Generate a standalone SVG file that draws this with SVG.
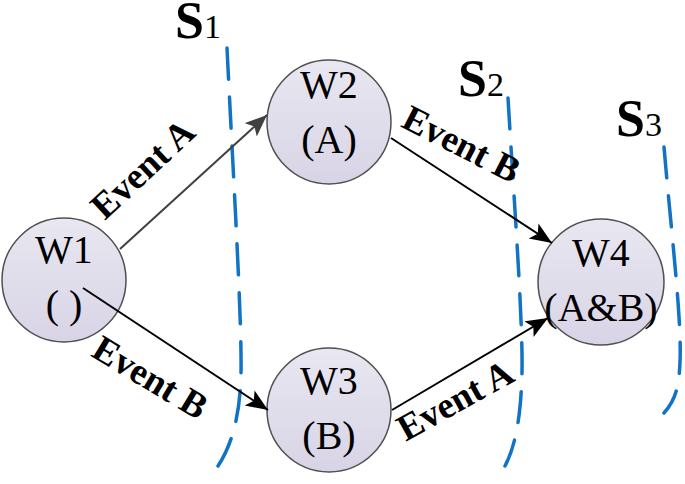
<svg xmlns="http://www.w3.org/2000/svg" width="685" height="484" viewBox="0 0 685 484">
<defs>
<linearGradient id="nodeFill" x1="0" y1="0" x2="0" y2="1">
<stop offset="0" stop-color="#e9e7f1"/>
<stop offset="1" stop-color="#d8d4e6"/>
</linearGradient>
<marker id="arrBlack" markerWidth="24" markerHeight="20" refX="22" refY="9" orient="auto" markerUnits="userSpaceOnUse">
<path d="M0,0 L22,9 L0,18 L5,9 Z" fill="#000"/>
</marker>
<marker id="arrGray" markerWidth="24" markerHeight="20" refX="22" refY="9" orient="auto" markerUnits="userSpaceOnUse">
<path d="M0,0 L22,9 L0,18 L5,9 Z" fill="#404040"/>
</marker>
</defs>
<style>
.node circle { fill: url(#nodeFill); stroke: #505050; stroke-width: 1.5; }
.nt { font-family: "Liberation Serif", "Times New Roman", serif; font-size: 40px; fill: #000; text-anchor: middle; }
.sep { fill: none; stroke: #1273c4; stroke-width: 3.5; stroke-dasharray: 31 18; stroke-linecap: round; }
.sl { font-family: "Liberation Serif", "Times New Roman", serif; font-weight: bold; font-size: 52px; fill: #000; }
.ss { font-family: "Liberation Serif", "Times New Roman", serif; font-size: 34px; fill: #000; }
.el { font-family: "Liberation Serif", "Times New Roman", serif; font-weight: bold; font-size: 37px; fill: #000; text-anchor: middle; }
.edge { fill: none; stroke-width: 2; }
</style>

<g id="separators">
<path class="sep" d="M227,48 C234,190 242,320 241,375 C240,415 232,445 218,466"/>
<path class="sep" d="M508,98 C514,200 523,320 522,372 C521,415 516,445 505,466"/>
<path class="sep" d="M664,147 C671,230 682,320 680,362 C679,390 674,402 664,413"/>
</g>

<g id="separator-labels">
<text x="175" y="38"><tspan class="sl">S</tspan><tspan class="ss">1</tspan></text>
<text x="458" y="96"><tspan class="sl">S</tspan><tspan class="ss">2</tspan></text>
<text x="616" y="136"><tspan class="sl">S</tspan><tspan class="ss">3</tspan></text>
</g>

<g id="node-W1" class="node">
<circle cx="64" cy="280" r="62"/>
<text class="nt" x="64" y="263">W1</text>
<text class="nt" x="64" y="318">( )</text>
</g>
<g id="node-W2" class="node">
<circle cx="329" cy="122" r="62"/>
<text class="nt" x="329" y="98">W2</text>
<text class="nt" x="329" y="153">(A)</text>
</g>
<g id="node-W3" class="node">
<circle cx="329" cy="410" r="62"/>
<text class="nt" x="329" y="394">W3</text>
<text class="nt" x="329" y="449">(B)</text>
</g>
<g id="node-W4" class="node">
<circle cx="601" cy="282" r="63"/>
<text class="nt" x="601" y="266">W4</text>
<text class="nt" x="601" y="321">(A&amp;B)</text>
</g>

<g id="connectors">
<line class="edge" x1="120" y1="249" x2="267" y2="115" stroke="#404040" marker-end="url(#arrGray)"/>
<line class="edge" x1="83" y1="288" x2="268" y2="410" stroke="#000" marker-end="url(#arrBlack)"/>
<line class="edge" x1="391" y1="138" x2="552" y2="243" stroke="#000" marker-end="url(#arrBlack)"/>
<line class="edge" x1="392" y1="410" x2="548" y2="318" stroke="#000" marker-end="url(#arrBlack)"/>
<text class="el" transform="translate(151,178) rotate(-43)">Event A</text>
<text class="el" transform="translate(144,388) rotate(31)">Event B</text>
<text class="el" transform="translate(456,155) rotate(27)">Event B</text>
<text class="el" transform="translate(461,411) rotate(-29)">Event A</text>
</g>
</svg>
